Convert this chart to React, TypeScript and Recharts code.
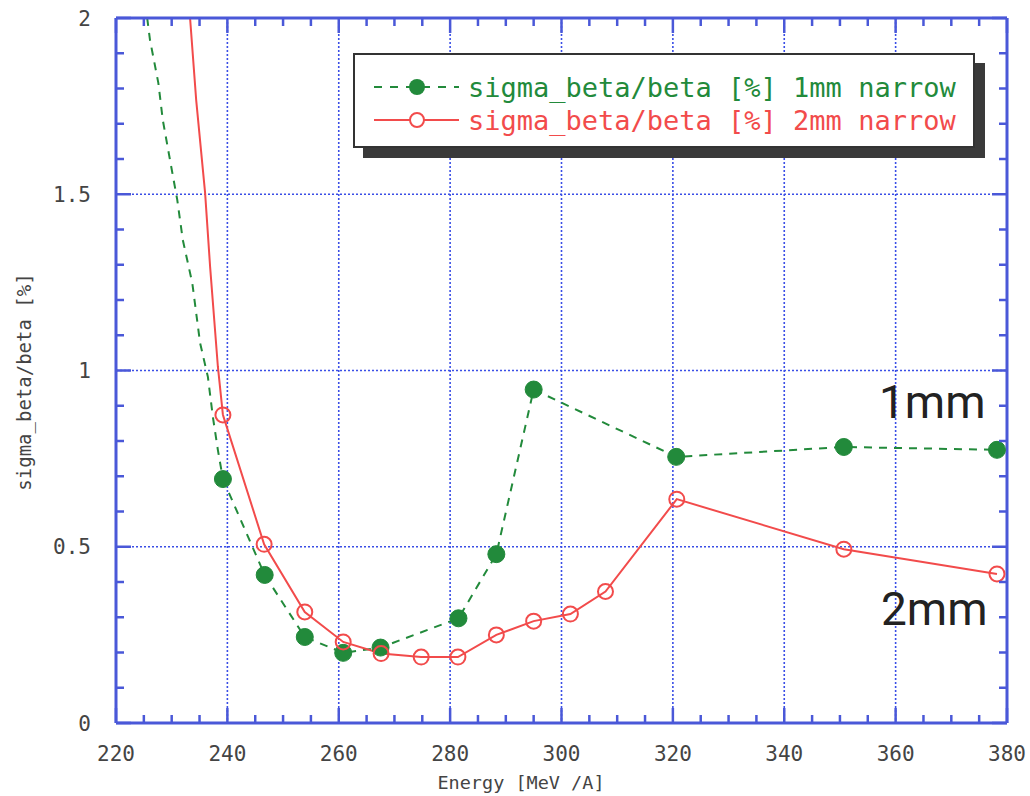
import React from "react";
import { LineChart, Line, XAxis, YAxis, CartesianGrid, Label } from "recharts";

// axis ticks
const xMajorTicks = [220, 240, 260, 280, 300, 320, 340, 360, 380];
const xMinorTicks = [
  220, 225, 230, 235, 240, 245, 250, 255, 260, 265, 270, 275, 280, 285, 290, 295, 300,
  305, 310, 315, 320, 325, 330, 335, 340, 345, 350, 355, 360, 365, 370, 375, 380,
];
const yMajorTicks = [0, 0.5, 1, 1.5, 2];
const yMinorTicks = [
  0, 0.1, 0.2, 0.3, 0.4, 0.5, 0.6, 0.7, 0.8, 0.9, 1, 1.1, 1.2, 1.3, 1.4, 1.5, 1.6, 1.7, 1.8, 1.9, 2,
];

// 1mm narrow: measured points (with markers)
const energy1mm = [239.2, 246.7, 253.9, 260.8, 267.5, 281.5, 288.3, 295.0, 320.6, 350.7, 378.2];
const sigma1mm = [0.692, 0.42, 0.244, 0.199, 0.214, 0.297, 0.479, 0.946, 0.755, 0.783, 0.775];
// 1mm narrow: steep part of the curve, no markers
const energy1mmTail = [225.6, 226.1, 227.6, 228.4, 229.7, 231.0, 232.0, 233.7, 235.1, 236.5, 237.4, 238.3, 239.2];
const sigma1mmTail = [2.0, 1.938, 1.816, 1.711, 1.597, 1.484, 1.37, 1.248, 1.078, 0.982, 0.868, 0.774, 0.692];

// 2mm narrow: measured points (with markers)
const energy2mm = [239.2, 246.6, 253.9, 260.8, 267.6, 274.8, 281.4, 288.3, 295.0, 301.6, 307.9, 320.7, 350.7, 378.2];
const sigma2mm = [0.874, 0.507, 0.315, 0.23, 0.197, 0.187, 0.187, 0.25, 0.289, 0.309, 0.373, 0.635, 0.493, 0.423];
// 2mm narrow: steep part, no markers
const energy2mmTail = [233.3, 234.4, 236.0, 236.9, 238.3, 239.2];
const sigma2mmTail = [2.0, 1.767, 1.504, 1.294, 1.01, 0.874];

const zip = (xs: number[], ys: number[]) => xs.map((e, i) => ({ energy: e, sigma: ys[i] }));

const data1mm = zip(energy1mm, sigma1mm);
const data1mmTail = zip(energy1mmTail, sigma1mmTail);
const data2mm = zip(energy2mm, sigma2mm);
const data2mmTail = zip(energy2mmTail, sigma2mmTail);

const AXIS_BLUE = "#4a58d8";
const GRID_BLUE = "#3a4ee6";
const GREEN = "#228a3b";
const RED = "#f24b4b";
const TICK_TEXT = "#444";
const MONO = "'DejaVu Sans Mono', monospace";

function BottomTick(props: any) {
  const { x, y, payload } = props;
  const v = payload.value;
  const major = xMajorTicks.includes(v);
  return (
    <g>
      <line x1={x} y1={y} x2={x} y2={y - (major ? 15 : 8)} stroke={AXIS_BLUE} strokeWidth={2.5} />
      {major && (
        <text x={x} y={y + 38} textAnchor="middle" fill={TICK_TEXT} fontFamily={MONO} fontSize={21}>
          {v}
        </text>
      )}
    </g>
  );
}

function TopTick(props: any) {
  const { x, y, payload } = props;
  const major = xMajorTicks.includes(payload.value);
  return <line x1={x} y1={y} x2={x} y2={y + (major ? 15 : 8)} stroke={AXIS_BLUE} strokeWidth={2.5} />;
}

function LeftTick(props: any) {
  const { x, y, payload } = props;
  const v = payload.value;
  const major = yMajorTicks.includes(v);
  return (
    <g>
      <line x1={x} y1={y} x2={x + (major ? 15 : 8)} y2={y} stroke={AXIS_BLUE} strokeWidth={2.5} />
      {major && (
        <text x={x - 25} y={y + 7.5} textAnchor="end" fill={TICK_TEXT} fontFamily={MONO} fontSize={21}>
          {String(v)}
        </text>
      )}
    </g>
  );
}

function RightTick(props: any) {
  const { x, y, payload } = props;
  const major = yMajorTicks.includes(payload.value);
  return <line x1={x} y1={y} x2={x - (major ? 15 : 8)} y2={y} stroke={AXIS_BLUE} strokeWidth={2.5} />;
}

function XTitle(props: any) {
  const vb = props.viewBox;
  return (
    <text x={vb.x + 405} y={vb.y + 66} textAnchor="middle" fill={TICK_TEXT} fontFamily={MONO} fontSize={18.5}>
      Energy [MeV /A]
    </text>
  );
}

function YTitle(props: any) {
  const vb = props.viewBox;
  const cx = vb.x + 8;
  const cy = vb.y + 364;
  return (
    <text
      x={cx}
      y={cy}
      transform={`rotate(-90 ${cx} ${cy})`}
      textAnchor="middle"
      dominantBaseline="central"
      fill={TICK_TEXT}
      fontFamily={MONO}
      fontSize={19}
    >
      sigma_beta/beta [%]
    </text>
  );
}

function LegendBox() {
  return (
    <div
      style={{
        position: "absolute",
        left: 353,
        top: 53,
        width: 622,
        height: 95,
        boxSizing: "border-box",
        border: "2px solid #333",
        background: "#fff",
        boxShadow: "10px 10px 0 #3a3a3a",
      }}
    >
      <svg width={618} height={91} style={{ display: "block" }}>
        <line x1={19} y1={32} x2={104} y2={32} stroke={GREEN} strokeWidth={2} strokeDasharray="8 8" />
        <circle cx={62} cy={32} r={8} fill={GREEN} />
        <text x={113} y={32} dominantBaseline="central" fill={GREEN} fontFamily={MONO} fontSize={27}>
          sigma_beta/beta [%] 1mm narrow
        </text>
        <line x1={19} y1={65} x2={104} y2={65} stroke={RED} strokeWidth={2} />
        <circle cx={62} cy={65} r={7} fill="#fff" stroke={RED} strokeWidth={2} />
        <text x={113} y={65} dominantBaseline="central" fill={RED} fontFamily={MONO} fontSize={27}>
          sigma_beta/beta [%] 2mm narrow
        </text>
      </svg>
    </div>
  );
}

const noteStyle: React.CSSProperties = {
  position: "absolute",
  fontFamily: "Roboto, sans-serif",
  fontSize: 46,
  lineHeight: 1,
  color: "#222",
};

export default function App() {
  return (
    <div style={{ position: "absolute", left: 0, top: 0, width: 1030, height: 796, background: "#fff", overflow: "hidden" }}>
      <LineChart width={1030} height={796} margin={{ top: 16, right: 21, bottom: 5, left: 16 }}>
        <CartesianGrid
          xAxisId="b"
          yAxisId="l"
          stroke={GRID_BLUE}
          strokeWidth={1.6}
          strokeDasharray="2 2"
          verticalValues={xMajorTicks}
          horizontalValues={yMajorTicks}
        />
        <XAxis
          xAxisId="b"
          dataKey="energy"
          type="number"
          domain={[220, 380]}
          allowDataOverflow
          ticks={xMinorTicks}
          interval={0}
          height={68}
          tickSize={0}
          tickMargin={0}
          tickLine={false}
          axisLine={{ stroke: AXIS_BLUE, strokeWidth: 3 }}
          tick={<BottomTick />}
        >
          <Label content={<XTitle />} />
        </XAxis>
        <XAxis
          xAxisId="t"
          orientation="top"
          dataKey="energy"
          type="number"
          domain={[220, 380]}
          allowDataOverflow
          ticks={xMinorTicks}
          interval={0}
          height={2}
          tickSize={0}
          tickMargin={0}
          tickLine={false}
          axisLine={{ stroke: AXIS_BLUE, strokeWidth: 3 }}
          tick={<TopTick />}
        />
        <YAxis
          yAxisId="l"
          dataKey="sigma"
          type="number"
          domain={[0, 2]}
          allowDataOverflow
          ticks={yMinorTicks}
          interval={0}
          width={100}
          tickSize={0}
          tickMargin={0}
          tickLine={false}
          axisLine={{ stroke: AXIS_BLUE, strokeWidth: 3 }}
          tick={<LeftTick />}
        >
          <Label content={<YTitle />} />
        </YAxis>
        <YAxis
          yAxisId="r"
          orientation="right"
          dataKey="sigma"
          type="number"
          domain={[0, 2]}
          allowDataOverflow
          ticks={yMinorTicks}
          interval={0}
          width={2}
          tickSize={0}
          tickMargin={0}
          tickLine={false}
          axisLine={{ stroke: AXIS_BLUE, strokeWidth: 3 }}
          tick={<RightTick />}
        />
        <Line
          xAxisId="b"
          yAxisId="l"
          data={data1mmTail}
          dataKey="sigma"
          type="linear"
          stroke={GREEN}
          strokeWidth={2}
          strokeDasharray="8 7"
          dot={false}
          activeDot={false}
          isAnimationActive={false}
        />
        <Line
          xAxisId="b"
          yAxisId="l"
          data={data2mmTail}
          dataKey="sigma"
          type="linear"
          stroke={RED}
          strokeWidth={2}
          dot={false}
          activeDot={false}
          isAnimationActive={false}
        />
        <Line
          xAxisId="b"
          yAxisId="l"
          data={data1mm}
          dataKey="sigma"
          type="linear"
          stroke={GREEN}
          strokeWidth={2}
          strokeDasharray="8 7"
          dot={{ r: 8.5, fill: GREEN, stroke: GREEN, strokeWidth: 1, strokeDasharray: "none" }}
          activeDot={false}
          isAnimationActive={false}
        />
        <Line
          xAxisId="b"
          yAxisId="l"
          data={data2mm}
          dataKey="sigma"
          type="linear"
          stroke={RED}
          strokeWidth={2}
          dot={{ r: 7.5, fill: "none", stroke: RED, strokeWidth: 2 }}
          activeDot={false}
          isAnimationActive={false}
        />
      </LineChart>
      <LegendBox />
      <div style={{ ...noteStyle, left: 879, top: 379 }}>1mm</div>
      <div style={{ ...noteStyle, left: 881, top: 586 }}>2mm</div>
    </div>
  );
}
